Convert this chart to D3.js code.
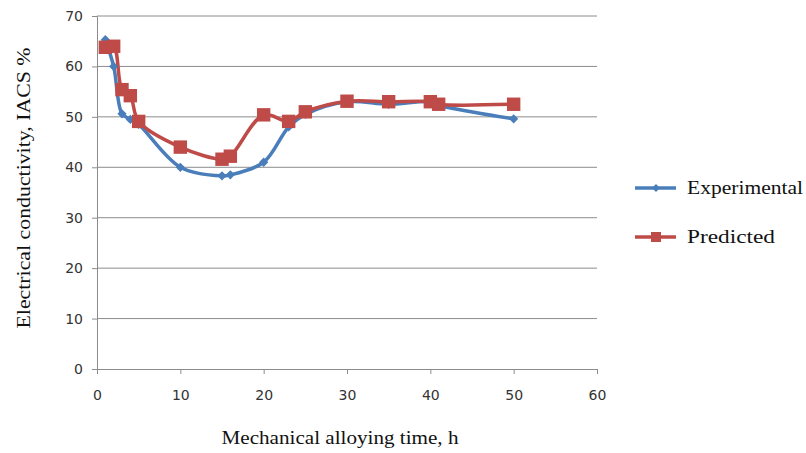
<!DOCTYPE html>
<html><head><meta charset="utf-8">
<script src="https://cdn.jsdelivr.net/npm/d3@7"></script>
<style>body{margin:0;background:#fff}svg{display:block}</style>
</head><body>
<svg id="c" width="806" height="453"></svg>
<script>
const times = [1, 2, 3, 4, 5, 10, 15, 16, 20, 23, 25, 30, 35, 40, 41, 50];
const experimental = [65.3, 60, 50.6, 49.5, 48.5, 40, 38.3, 38.5, 41, 48, 50.5, 53, 52.5, 53, 52.3, 49.6];
const predicted = [63.8, 64, 55.4, 54.2, 49.1, 44, 41.6, 42.2, 50.4, 49.1, 51, 53.1, 53, 53, 52.5, 52.5];
const xTicks = [0, 10, 20, 30, 40, 50, 60];
const yTicks = [0, 10, 20, 30, 40, 50, 60, 70];
const seriesNames = ["Experimental", "Predicted"];

const svg = d3.select("#c");
const L = 97, R = 597, T = 16, B = 369;
const x = d3.scaleLinear().domain([0, 60]).range([L, R]);
const y = d3.scaleLinear().domain([0, 70]).range([B, T]);
const gridCol = "#8c8c8c";
const serif = "'Liberation Serif', 'Times New Roman', serif";

svg.append("g").selectAll("line").data(yTicks.filter(d => d > 0)).join("line")
  .attr("x1", L).attr("x2", R).attr("y1", d => y(d)).attr("y2", d => y(d))
  .attr("stroke", gridCol).attr("stroke-width", 1);

const yAxis = svg.append("g").attr("transform", `translate(${L},0)`)
  .call(d3.axisLeft(y).tickValues(yTicks).tickSize(5).tickPadding(9));
const xAxis = svg.append("g").attr("transform", `translate(0,${B})`)
  .call(d3.axisBottom(x).tickValues(xTicks).tickSize(5).tickPadding(16));
[yAxis, xAxis].forEach(a => {
  a.selectAll("path,line").attr("stroke", gridCol);
  a.selectAll("text").attr("font-family", "'DejaVu Sans', Verdana, sans-serif")
    .attr("font-size", 14).attr("fill", "#333");
});

const colors = ["#4a7ebb", "#be4b48"];
const data = [experimental, predicted];
const line = d3.line().curve(d3.curveCatmullRom.alpha(0.5));

data.forEach((vals, i) => {
  const pts = times.map((t, j) => [x(t), y(vals[j])]);
  svg.append("path").attr("d", line(pts)).attr("fill", "none")
    .attr("stroke", colors[i]).attr("stroke-width", 3.5).attr("stroke-linejoin", "round");
});
const sym = [d3.symbol().type(d3.symbolDiamond2).size(55), d3.symbol().type(d3.symbolSquare).size(180)];
[0, 1].forEach(i => {
  svg.append("g").selectAll("path").data(times.map((t, j) => [t, data[i][j]])).join("path")
    .attr("transform", d => `translate(${x(d[0])},${y(d[1])})`)
    .attr("d", sym[i]).attr("fill", colors[i]);
});

const legY = [188, 237];
const legW = [116, 88];
seriesNames.forEach((n, i) => {
  svg.append("line").attr("x1", 635).attr("x2", 676).attr("y1", legY[i]).attr("y2", legY[i])
    .attr("stroke", colors[i]).attr("stroke-width", 3.5);
  svg.append("path").attr("transform", `translate(656,${legY[i]})`)
    .attr("d", i === 0 ? d3.symbol().type(d3.symbolDiamond2).size(40)() : d3.symbol().type(d3.symbolSquare).size(100)())
    .attr("fill", colors[i]);
  svg.append("text").attr("x", 687).attr("y", legY[i] + 6).text(n)
    .attr("textLength", legW[i]).attr("lengthAdjust", "spacingAndGlyphs")
    .attr("font-family", serif).attr("font-size", 19).attr("fill", "#111");
});

svg.append("text").attr("transform", `translate(30,188) rotate(-90)`)
  .attr("text-anchor", "middle").text("Electrical conductivity, IACS %")
  .attr("textLength", 281).attr("lengthAdjust", "spacingAndGlyphs")
  .attr("font-family", serif).attr("font-size", 18).attr("fill", "#111");
svg.append("text").attr("x", 340).attr("y", 444).attr("text-anchor", "middle")
  .text("Mechanical alloying time, h")
  .attr("textLength", 237).attr("lengthAdjust", "spacingAndGlyphs")
  .attr("font-family", serif).attr("font-size", 18).attr("fill", "#111");
</script>
</body></html>
